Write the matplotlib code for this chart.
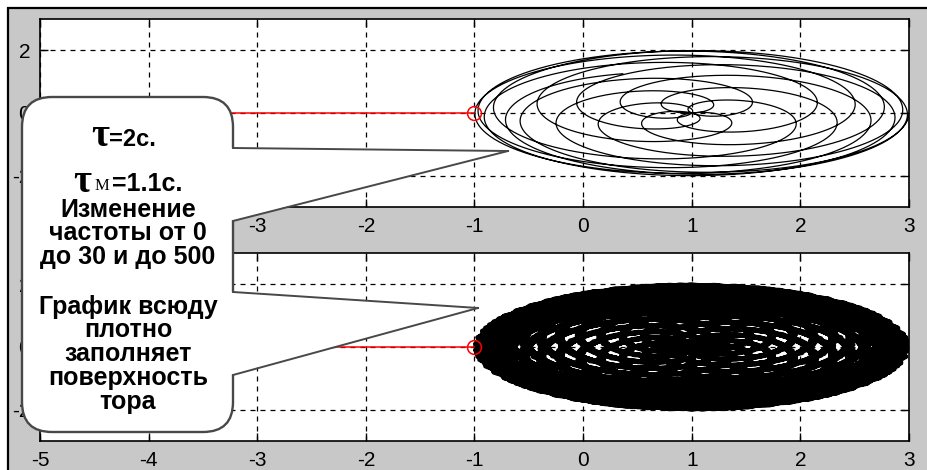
import numpy as np
import matplotlib.pyplot as plt
from matplotlib.patches import FancyBboxPatch, Polygon, Rectangle

# parameters read from the callout text
tau = 2.0        # τ, s
tau_m = 1.1      # τм, s
w_max = [30, 500]     # upper plot: 0..30, lower plot: 0..500
w_step = [0.01, 0.23]  # plotting step of the frequency grid
line_w = [0.9, 2.8]

crit_x, crit_y = -1, 0
red_x = [-5, -1]
red_y = [0, 0]

xticks = [-5, -4, -3, -2, -1, 0, 1, 2, 3]
yticks = [-2, 0, 2]

bubble_lines = ["Изменение", "частоты от 0", "до 30 и до 500", "",
                "График всюду", "плотно", "заполняет", "поверхность", "тора"]

plt.rcParams["axes.unicode_minus"] = False

W, H = 928, 470
fig = plt.figure(figsize=(W / 100, H / 100), dpi=100, facecolor="white")
fig.patches.append(Rectangle((8 / W, -0.1), 1.2, 1.1 - 8 / H, transform=fig.transFigure,
                             facecolor="#c8c8c8", edgecolor="black", linewidth=1.6, zorder=-10))

tick_font = ["Liberation Sans Narrow", "Liberation Sans", "DejaVu Sans"]

boxes = [[40 / W, (H - 207) / H, 869 / W, 188 / H],
         [40 / W, (H - 441) / H, 869 / W, 188 / H]]

for box, wm, st, lw in zip(boxes, w_max, w_step, line_w):
    ax = fig.add_axes(box)
    ax.set_facecolor("white")
    w = np.arange(0, wm + st, st)
    # W(jw) = 1 + e^{-jw tau} (1 + e^{-jw tau_m})
    z = 1 + np.exp(-1j * w * tau) * (1 + np.exp(-1j * w * tau_m))
    ax.plot(z.real, z.imag, color="black", lw=lw)
    ax.plot(red_x, red_y, color="red", lw=1.1)
    ax.plot([crit_x], [crit_y], "o", mfc="none", mec="red", ms=10, mew=1.1)
    ax.set_xlim(-5, 3)
    ax.set_ylim(-3, 3)
    ax.set_xticks(xticks)
    ax.set_yticks(yticks)
    ax.grid(True, color="black", linestyle=(0, (4, 4)), linewidth=0.9)
    ax.tick_params(direction="in", length=6, top=True, right=True, pad=7,
                   labelsize=15, width=1)
    for lab in ax.get_xticklabels() + ax.get_yticklabels():
        lab.set_family(tick_font)
    for s in ax.spines.values():
        s.set_linewidth(1.2)

# callout overlay in pixel coordinates
ov = fig.add_axes([0, 0, 1, 1], zorder=10)
ov.set_xlim(0, W)
ov.set_ylim(0, H)
ov.axis("off")
ov.patch.set_alpha(0)

def Y(y):
    return H - y

edge = "#484848"
bub = FancyBboxPatch((22 + 30, Y(432) + 30), 211 - 60, 335 - 60,
                     boxstyle="round,pad=30", facecolor="white", edgecolor=edge, lw=1.7)
ov.add_patch(bub)

for (b1, b2, tip) in [((233, 148), (233, 221), (508, 151)),
                      ((233, 292), (233, 375), (478, 308))]:
    ov.add_patch(Polygon([(b1[0] - 3, Y(b1[1])), (tip[0], Y(tip[1])), (b2[0] - 3, Y(b2[1]))],
                         closed=True, facecolor="white", edgecolor="none"))
    ov.plot([b1[0], tip[0]], [Y(b1[1]), Y(tip[1])], color=edge, lw=1.4)
    ov.plot([b2[0], tip[0]], [Y(b2[1]), Y(tip[1])], color=edge, lw=1.4)

bold = dict(family=["Liberation Sans", "DejaVu Sans"], weight="bold", color="black")
serif = dict(family=["Liberation Serif", "DejaVu Serif"], weight="bold", color="black")

# τ=2с.
ov.text(100, Y(136), "τ", fontsize=28, ha="center", va="center", **serif)
ov.text(109, Y(139), "=2с.", fontsize=17, ha="left", va="center", **bold)
# τм =1.1с.
ov.text(82, Y(182), "τ", fontsize=28, ha="center", va="center", **serif)
ov.text(95, Y(186), "М", fontsize=12, ha="left", va="center",
        family=["Liberation Serif", "DejaVu Serif"], color="black")
ov.text(112, Y(184), "=1.1с.", fontsize=18, ha="left", va="center", **bold)

ys = [210, 233, 257, 0, 307, 330, 354, 378, 402]
for t, y in zip(bubble_lines, ys):
    if t:
        ov.text(128, Y(y), t, fontsize=18, ha="center", va="center", **bold)

fig.savefig("out.png", dpi=100, facecolor=fig.get_facecolor())
